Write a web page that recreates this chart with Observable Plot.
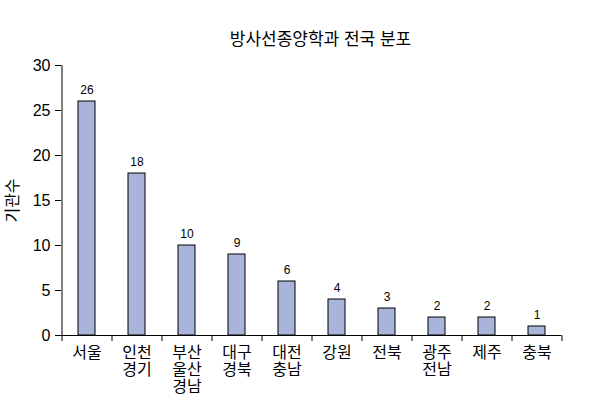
<!DOCTYPE html>
<html><head><meta charset="utf-8">
<script src="https://cdn.jsdelivr.net/npm/d3@7"></script>
<script src="https://cdn.jsdelivr.net/npm/@observablehq/plot@0.6"></script>
<style>
body{margin:0;background:#fff;font-family:"Liberation Sans",Arial,"Noto Sans CJK KR",sans-serif;}
#wrap{width:601px;height:411px;position:relative;}
#title{height:55px;box-sizing:border-box;padding-top:30px;padding-left:40px;line-height:20px;font-size:17px;text-align:center;color:#000;}
</style></head>
<body><div id="wrap"><div id="title"></div><div id="chart"></div></div>
<script>
const regions = ["서울","인천\n경기","부산\n울산\n경남","대구\n경북","대전\n충남","강원","전북","광주\n전남","제주","충북"];
const counts = [26,18,10,9,6,4,3,2,2,1];
const yTicks = [0,5,10,15,20,25,30];
const titleText = "방사선종양학과 전국 분포";
const yLabel = "기관수";

document.getElementById("title").textContent = titleText;
const data = regions.map((r,i)=>({region:r,count:counts[i]}));
const half = 25;
const chart = Plot.plot({
  width: 601,
  height: 356,
  marginTop: 10,
  marginBottom: 76,
  marginLeft: 61,
  marginRight: 40,
  style: {fontFamily: '"Liberation Sans", Arial, "Noto Sans CJK KR", sans-serif', color: "#000", background: "#fff"},
  x: {domain: regions, paddingInner: 0.66, paddingOuter: 0.33, align: 0.5},
  y: {domain: [0,30]},
  marks: [
    Plot.barY(data, {x: "region", y: "count", fill: "#a8b4d9", stroke: "#000", strokeWidth: 1}),
    Plot.text(data, {x: "region", y: "count", text: d => String(d.count), dy: -11, fontSize: 12, fill: "#000"}),
    Plot.ruleY([0], {stroke: "#000"}),
    Plot.ruleX([regions[0]], {dx: -half, stroke: "#000"}),
    Plot.axisY({ticks: yTicks, tickSize: 6, tickPadding: 5, fontSize: 16, label: null}),
    Plot.text([yLabel], {frameAnchor: "left", textAnchor: "middle", rotate: -90, dx: -49, fontSize: 16, fill: "#000"}),
    Plot.axisX({ticks: regions, tickSize: 6, tickFormat: () => "", dx: -half, label: null}),
    Plot.axisX({ticks: [regions[regions.length-1]], tickSize: 6, tickFormat: () => "", dx: half, label: null}),
    Plot.axisX({ticks: regions, tickSize: 0, tickPadding: 10, fontSize: 16, lineHeight: 1.08, label: null})
  ]
});
document.getElementById("chart").appendChild(chart);
</script></body></html>
